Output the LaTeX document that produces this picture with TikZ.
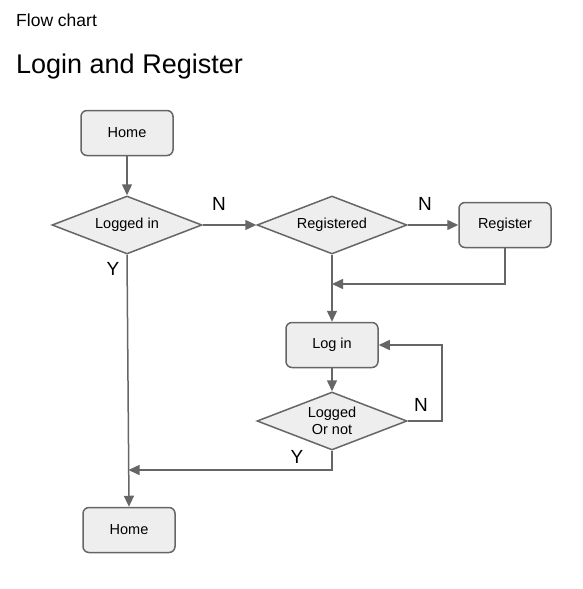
\documentclass[tikz,border=0pt]{standalone}
\usepackage{fontspec}
\setmainfont{Liberation Sans}
\usetikzlibrary{shapes.geometric,arrows.meta}
\definecolor{edgegray}{HTML}{666666}
\definecolor{boxfill}{HTML}{EEEEEE}
\begin{document}
\begin{tikzpicture}[
		x=1pt, y=-1pt,
		box/.style={draw=edgegray, fill=boxfill, line width=1.5pt, rectangle, rounded corners=6pt, minimum width=92pt, minimum height=45pt, inner sep=0pt, font=\fontsize{14.5}{17}\selectfont},
		decision/.style={draw=edgegray, fill=boxfill, line width=1.5pt, diamond, aspect=2.6, minimum width=150pt, minimum height=58pt, inner sep=0pt, align=center, font=\fontsize{14.5}{17.5}\selectfont},
		tag/.style={inner sep=0pt, font=\fontsize{19}{22}\selectfont},
		arrow/.style={-{Triangle[length=11pt,width=10pt]}, draw=edgegray, line width=1.5pt}
		]
		\useasboundingbox (0,0) rectangle (583,589);
		
		\node (sub) [anchor=base west, inner sep=0pt, font=\fontsize{17.5}{20}\selectfont] at (16,26) {Flow chart};
		\node (title) [anchor=base west, inner sep=0pt, font=\fontsize{27}{30}\selectfont] at (16,73) {Login and Register};
		
		\node (home) [box] at (127,133) {Home};
		\node (logged) [decision] at (127,225) {Logged in};
		\node (registered) [decision] at (332,225) {Registered};
		\node (register) [box] at (505,225) {Register};
		\node (login) [box] at (332,345) {Log in};
		\node (check) [decision] at (332,421) {Logged\\Or not};
		\node (homeend) [box] at (129,530) {Home};
		
		\coordinate (merge) at (332,284);
		\coordinate (back) at (442,421);
		\coordinate (join) at (128.5,470);
		
		\node (n1) [tag] at (219,204) {N};
		\node (n2) [tag] at (425,204) {N};
		\node (y1) [tag] at (113,269) {Y};
		\node (n3) [tag] at (421,405) {N};
		\node (y2) [tag] at (297,457) {Y};
		
		\draw[arrow] (home) -- (logged);
		\draw[arrow] (logged.east) -- (registered.west);
		\draw[arrow] (registered.east) -- (register.west);
		\draw[arrow] (register.south) |- (merge);
		\draw[arrow] (registered.south) -- (login.north);
		\draw[arrow] (login.south) -- (check.north);
		\draw[arrow] (check.east) -- (back) |- (login.east);
		\draw[arrow] (check.south) |- (join);
		\draw[arrow] (logged.south) -- (homeend.north);
		
	\end{tikzpicture}
\end{document}
